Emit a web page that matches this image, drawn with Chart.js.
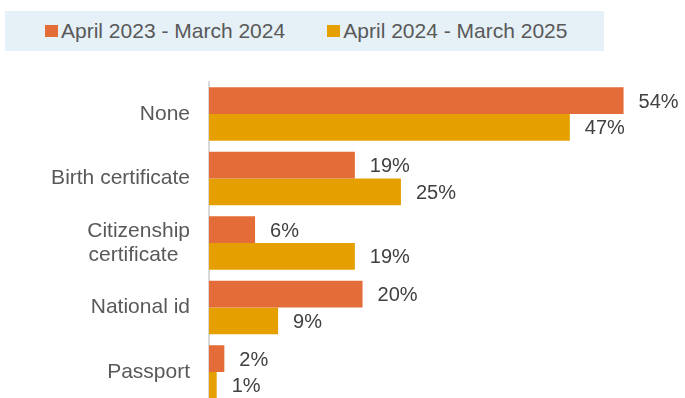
<!DOCTYPE html>
<html>
<head>
<meta charset="utf-8">
<script src="https://cdn.jsdelivr.net/npm/chart.js@4/dist/chart.umd.min.js"></script>
<style>
  html, body { margin: 0; padding: 0; overflow: hidden; background: #ffffff; }
  #wrap { position: relative; width: 685px; height: 410px; }
  #wrap canvas { display: block; }
  #legend {
    position: absolute; left: 5px; top: 11px; width: 599px; height: 40px;
    background: #E5F0F7;
    font-family: "Liberation Sans", Arial, sans-serif; font-size: 21px; color: #595959;
  }
  #legend .item { position: absolute; top: 0; height: 40px; display: flex; align-items: center; white-space: nowrap; }
  #legend .swatch { width: 12.5px; height: 12.5px; margin-right: 3.5px; flex: none; }
  #legend .item span { line-height: 24px; }
</style>
</head>
<body>
<div id="wrap">
  <canvas id="chart" width="685" height="410"></canvas>
  <div id="legend"></div>
</div>
<script>
// Identity documents held, share of respondents by period
const categories = ['None', 'Birth certificate', ['Citizenship', 'certificate  '], 'National id', 'Passport'];
const seriesNames = ['April 2023 - March 2024', 'April 2024 - March 2025'];
const shareEarlier = [54, 19, 6, 20, 2];
const shareLater = [47, 25, 19, 9, 1];
const seriesColors = ['#E46C38', '#E5A000'];

const FONT = '"Liberation Sans", Arial, sans-serif';

// Percent labels just past the end of each bar
const valueLabels = {
  id: 'valueLabels',
  afterDatasetsDraw(chart) {
    const ctx = chart.ctx;
    ctx.save();
    ctx.font = '20px ' + FONT;
    ctx.fillStyle = '#404040';
    ctx.textAlign = 'left';
    ctx.textBaseline = 'middle';
    chart.data.datasets.forEach((ds, i) => {
      chart.getDatasetMeta(i).data.forEach((bar, j) => {
        ctx.fillText(ds.data[j] + '%', bar.x + 15, bar.y + 1.5);
      });
    });
    ctx.restore();
  }
};

// Legend band above the plot, built from the chart's own legend items
const htmlLegend = {
  id: 'htmlLegend',
  afterUpdate(chart) {
    const box = document.getElementById('legend');
    box.innerHTML = '';
    const lefts = [40, 322.3];
    const items = chart.options.plugins.legend.labels.generateLabels(chart);
    items.forEach((item, i) => {
      const el = document.createElement('div');
      el.className = 'item';
      el.style.left = lefts[i] + 'px';
      const sw = document.createElement('div');
      sw.className = 'swatch';
      sw.style.background = item.fillStyle;
      const tx = document.createElement('span');
      tx.textContent = item.text;
      el.appendChild(sw);
      el.appendChild(tx);
      box.appendChild(el);
    });
  }
};

new Chart(document.getElementById('chart'), {
  type: 'bar',
  data: {
    labels: categories,
    datasets: [
      { label: seriesNames[0], data: shareEarlier, backgroundColor: seriesColors[0], borderWidth: 0 },
      { label: seriesNames[1], data: shareLater, backgroundColor: seriesColors[1], borderWidth: 0 }
    ]
  },
  options: {
    indexAxis: 'y',
    responsive: false,
    animation: false,
    events: [],
    datasets: { bar: { categoryPercentage: 0.833, barPercentage: 1.0 } },
    layout: { padding: { top: 81.75, bottom: 5.75, left: 0, right: 0 } },
    plugins: {
      legend: { display: false },
      tooltip: { enabled: false }
    },
    scales: {
      x: { type: 'linear', min: 0, max: 62, display: false },
      y: {
        grid: { display: false, drawTicks: false },
        border: { display: true, color: '#D9D9D9', width: 2 },
        ticks: {
          padding: 19,
          color: '#595959',
          autoSkip: false,
          font: { family: FONT, size: 21, lineHeight: 1.15 }
        },
        afterFit(scale) {
          scale.width = 209;
          // the plot runs to the canvas edge; labels need no extra room above or below
          scale.paddingTop = 0;
          scale.paddingBottom = 0;
        }
      }
    }
  },
  plugins: [valueLabels, htmlLegend]
});
</script>
</body>
</html>
